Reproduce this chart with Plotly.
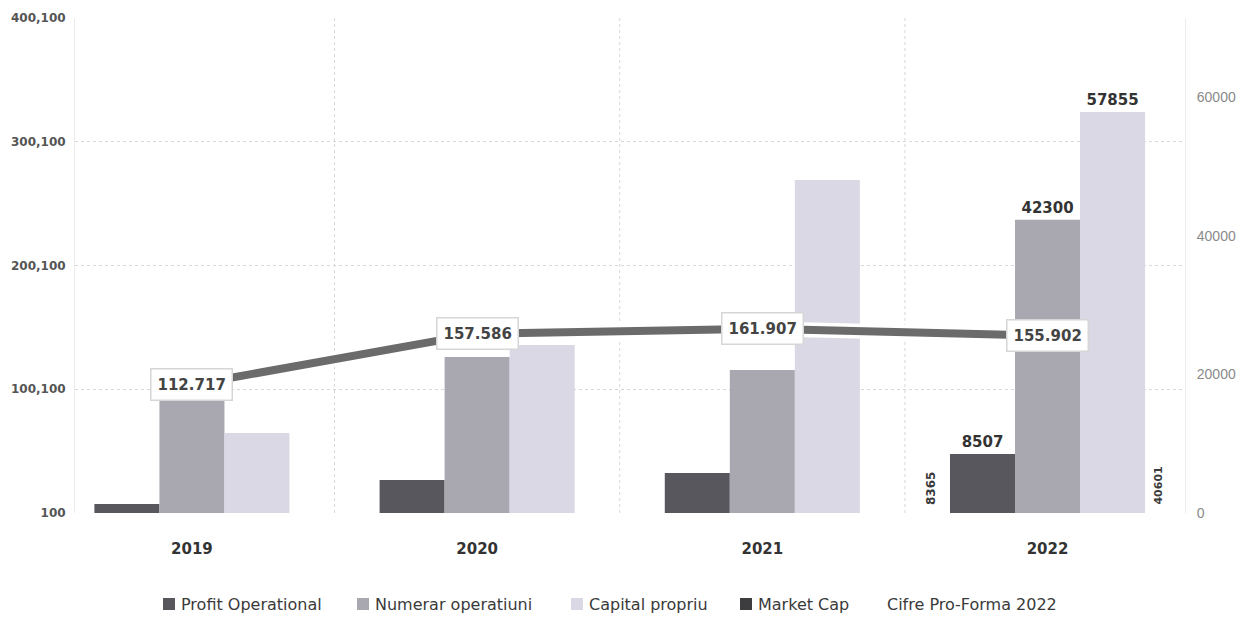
import plotly.graph_objects as go

# ---- data ----
years = ["2019", "2020", "2021", "2022"]
profit_operational = [1300, 4760, 5770, 8507]
numerar_operatiuni = [16600, 22500, 20630, 42300]
capital_propriu = [11540, 24240, 48050, 57855]
market_cap = [112717, 157586, 161907, 155902]

labelled_year = "2022"                 # bars that carry value labels
proforma_profit = 8365                 # pro-forma figures shown beside the 2022 group
proforma_capital = 40601

left_ticks = [100, 100100, 200100, 300100, 400100]
right_ticks = [0, 20000, 40000, 60000]

# ---- styling ----
W, H = 1252, 617
M_L, M_R, M_T, M_B = 75, 67, 18, 104
PLOT_W = W - M_L - M_R
PLOT_H = H - M_T - M_B

C_PROFIT = "#58575e"
C_NUMERAR = "#a9a8b1"
C_CAPITAL = "#d9d8e4"
C_MCAP = "#3d3d3f"
C_LINE = "#6b6b6b"
GRID = "#d8d8d8"
FONT = "DejaVu Sans"


def px_to_paper(px, py):
    return (px - M_L) / PLOT_W, (H - M_B - py) / PLOT_H


def fmt_dot(v):
    return f"{v:,}".replace(",", ".")


def bar_text(values):
    return [str(v) if y == labelled_year else "" for y, v in zip(years, values)]


fig = go.Figure()

# bars live on the primary (right-hand) value axis
for name, vals, col in [
    ("Profit Operational", profit_operational, C_PROFIT),
    ("Numerar operatiuni", numerar_operatiuni, C_NUMERAR),
    ("Capital propriu", capital_propriu, C_CAPITAL),
]:
    fig.add_trace(go.Bar(
        x=years, y=vals, name=name,
        marker=dict(color=col, line=dict(width=0)),
        text=bar_text(vals), textposition="outside",
        constraintext="none", cliponaxis=False,
        textfont=dict(family=FONT, size=15, color="#333333", weight="bold"),
        showlegend=False,
    ))

# empty series so the left-hand scale gets its own subplot and is drawn
fig.add_trace(go.Scatter(
    x=years, y=[None] * len(years), yaxis="y2", mode="lines",
    showlegend=False, hoverinfo="skip",
))

# Market cap line: white halo underneath, grey stroke on top
fig.add_trace(go.Scatter(
    x=years, y=market_cap, yaxis="y3", mode="lines",
    line=dict(color="white", width=15), showlegend=False, hoverinfo="skip",
))
fig.add_trace(go.Scatter(
    x=years, y=market_cap, yaxis="y3", mode="lines", name="Market Cap",
    line=dict(color=C_LINE, width=8), showlegend=False,
))

annotations = []
# category positions are given by index (year strings would read as numbers)
for i, v in enumerate(market_cap):
    annotations.append(dict(
        x=i, y=v, xref="x", yref="y3", text=f"<b>{fmt_dot(v)}</b>",
        showarrow=False,
        font=dict(family=FONT, size=15, color="#444444"),
        bgcolor="white", bordercolor="#d6d6d6", borderwidth=1.5, borderpad=6,
    ))

# rotated pro-forma figures either side of the 2022 group
idx = years.index(labelled_year)
for val, shift, size in [(proforma_profit, -117, 12), (proforma_capital, 110, 11)]:
    annotations.append(dict(
        x=idx, y=0, xref="x", yref="y", text=f"<b>{val}</b>",
        showarrow=False, textangle=-90, xshift=shift, yshift=6,
        yanchor="bottom", xanchor="center",
        font=dict(family=FONT, size=size, color="#3a3a3a"),
    ))

# custom legend row
legend_items = [
    ("Profit Operational", C_PROFIT, 163),
    ("Numerar operatiuni", C_NUMERAR, 357),
    ("Capital propriu", C_CAPITAL, 571),
    ("Market Cap", C_MCAP, 740),
    ("Cifre Pro-Forma 2022", None, 885),
]
shapes = []
LEG_Y = 604
for text, col, x0 in legend_items:
    if col is not None:
        ax0, ay0 = px_to_paper(x0, LEG_Y + 6)
        ax1, ay1 = px_to_paper(x0 + 12, LEG_Y - 6)
        shapes.append(dict(type="rect", xref="paper", yref="paper",
                           x0=ax0, x1=ax1, y0=ay0, y1=ay1,
                           fillcolor=col, line=dict(width=0)))
        tx = x0 + 16
    else:
        tx = x0
    px, py = px_to_paper(tx, LEG_Y)
    annotations.append(dict(
        x=px, y=py, xref="paper", yref="paper", text=text, showarrow=False,
        xanchor="left", yanchor="middle",
        font=dict(family=FONT, size=16, color="#3a3a3a"),
    ))

# dotted vertical separators between year groups
for i in range(len(years) - 1):
    shapes.append(dict(type="line", xref="x", yref="paper",
                       x0=i + 0.5, x1=i + 0.5, y0=0, y1=1, layer="below",
                       line=dict(color=GRID, width=1, dash="dot")))

fig.update_layout(
    width=W, height=H,
    margin=dict(l=M_L, r=M_R, t=M_T, b=M_B),
    paper_bgcolor="white", plot_bgcolor="rgba(0,0,0,0)",
    barmode="group", bargap=0.316, bargroupgap=0,
    showlegend=False,
    annotations=annotations, shapes=shapes,
    xaxis=dict(
        type="category", range=[-0.41, 3.482],
        showgrid=False, showline=False, zeroline=False,
        ticks="outside", ticklen=22, tickcolor="rgba(0,0,0,0)",
        tickfont=dict(family=FONT, size=15, color="#333333", weight="bold"),
    ),
    yaxis=dict(
        side="right", range=[0, 71400], tickvals=right_ticks,
        ticktext=[str(v) for v in right_ticks],
        showgrid=False, zeroline=False,
        showline=True, linecolor="#ececec", linewidth=1,
        ticks="outside", ticklen=8, tickcolor="rgba(0,0,0,0)",
        tickfont=dict(family="Liberation Sans", size=14, color="#8a8a8a"),
    ),
    yaxis2=dict(
        overlaying="y", side="left", range=[100, 400100], tickvals=left_ticks,
        ticktext=[f"{v:,}" for v in left_ticks],
        showgrid=True, gridcolor=GRID, griddash="dot", gridwidth=1,
        showline=True, linecolor="#ececec", linewidth=1, zeroline=False,
        ticks="outside", ticklen=6, tickcolor="rgba(0,0,0,0)",
        tickfont=dict(family=FONT, size=12, color="#555555", weight="bold"),
    ),
    yaxis3=dict(overlaying="y", range=[0, 435000], visible=False),
)

fig.write_html("out.html")
